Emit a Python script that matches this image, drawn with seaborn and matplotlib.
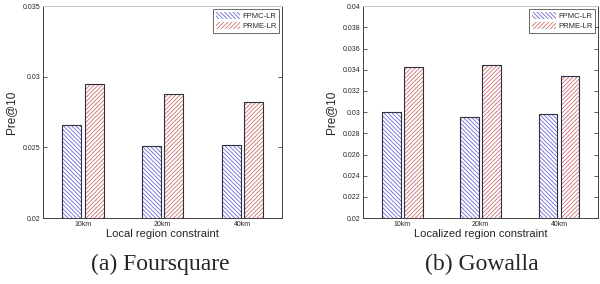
import numpy as np
import pandas as pd
import matplotlib
matplotlib.use("Agg")
import matplotlib.pyplot as plt
import seaborn as sns
from matplotlib.patches import Patch, Rectangle
from matplotlib.ticker import FormatStrFormatter

# ---------------------------------------------------------------------
# Data
# ---------------------------------------------------------------------
regions = ["10km", "20km", "40km"]
methods = ["FPMC-LR", "PRME-LR"]

foursquare_fpmc = [0.02657, 0.02512, 0.02521]
foursquare_prme = [0.02951, 0.02881, 0.02822]

gowalla_fpmc = [0.03000, 0.02951, 0.02980]
gowalla_prme = [0.03422, 0.03441, 0.03344]

hatch_colors = {"FPMC-LR": "#6a6ad8", "PRME-LR": "#cc7070"}
hatches = {"FPMC-LR": "\\" * 8, "PRME-LR": "/" * 8}


def long_frame(fpmc, prme):
    return pd.DataFrame({
        "region": regions * 2,
        "method": [methods[0]] * 3 + [methods[1]] * 3,
        "pre10": list(fpmc) + list(prme),
    })


sns.set_theme(style="white")
plt.rcParams["font.family"] = ["Liberation Sans", "DejaVu Sans"]
plt.rcParams["hatch.linewidth"] = 0.6

fig = plt.figure(figsize=(6.0, 2.84), dpi=100)
ax_a = fig.add_axes([0.072, 0.232, 0.398, 0.746])
ax_b = fig.add_axes([0.605, 0.232, 0.392, 0.746])


def draw(ax, df, ylim, yticks, xlabel):
    sns.barplot(data=df, x="region", y="pre10", hue="method", order=regions,
                hue_order=methods, width=0.56, gap=0.143, ax=ax,
                legend=False, errorbar=None)
    for cont, m in zip(ax.containers, methods):
        for bar in cont:
            bar.set_facecolor("white")
            bar.set_edgecolor(hatch_colors[m])
            bar.set_hatch(hatches[m])
            bar.set_linewidth(0)
            # dark outline on top of the hatched bar
            ax.add_patch(Rectangle((bar.get_x(), bar.get_y()), bar.get_width(),
                                   bar.get_height(), fill=False,
                                   edgecolor="#303040", linewidth=0.8))
    ax.set_xlim(-0.5, 2.5)
    ax.set_ylim(*ylim)
    ax.set_yticks(yticks)
    ax.yaxis.set_major_formatter(FormatStrFormatter("%g"))
    ax.set_xlabel(xlabel, fontsize=8, labelpad=1)
    ax.set_ylabel("Pre@10", fontsize=8.5, labelpad=4)
    ax.tick_params(axis="both", direction="in", length=3, width=0.6,
                   labelsize=5, color="#404040", pad=2,
                   right=True, top=False, left=True, bottom=True)
    ax.tick_params(axis="x", length=0)
    for side, sp in ax.spines.items():
        sp.set_visible(True)
        sp.set_linewidth(0.7)
        sp.set_color("#404040" if side != "top" else "#c8c8c8")
    handles = [Patch(facecolor="white", edgecolor=hatch_colors[m], hatch=hatches[m],
                     linewidth=0) for m in methods]
    leg = ax.legend(handles, methods, loc="upper right", fontsize=5.5,
                    frameon=True, fancybox=False, handlelength=3.2,
                    handleheight=1.1, handletextpad=0.3, borderpad=0.3,
                    labelspacing=0.3, borderaxespad=0.4)
    leg.get_frame().set_edgecolor("#404040")
    leg.get_frame().set_linewidth(0.7)


draw(ax_a, long_frame(foursquare_fpmc, foursquare_prme), (0.02, 0.035),
     [0.02, 0.025, 0.03, 0.035], "Local region constraint")
draw(ax_b, long_frame(gowalla_fpmc, gowalla_prme), (0.02, 0.04),
     np.round(np.arange(0.02, 0.0401, 0.002), 3), "Localized region constraint")

fig.text(0.267, 0.07, "(a) Foursquare", ha="center", va="center",
         family="Liberation Serif", fontsize=17)
fig.text(0.803, 0.07, "(b) Gowalla", ha="center", va="center",
         family="Liberation Serif", fontsize=17)

fig.savefig("out.png", dpi=100, facecolor="white")
